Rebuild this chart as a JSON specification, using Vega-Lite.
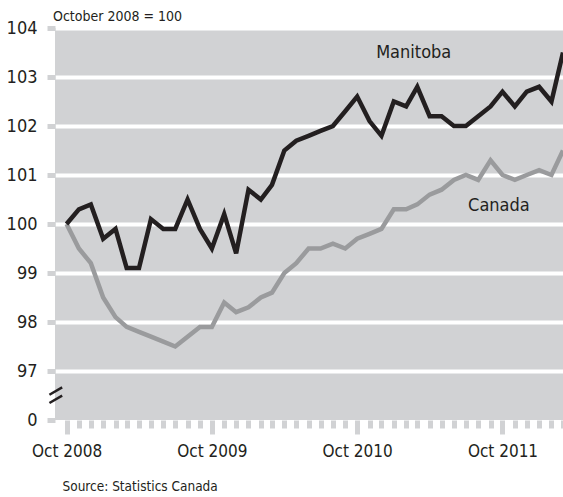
{
  "$schema": "https://vega.github.io/schema/vega-lite/v6.json",
  "width": 508,
  "height": 392,
  "autosize": {"type": "none"},
  "padding": {"left": 55, "top": 28, "right": 0, "bottom": 77},
  "background": "white",
  "config": {
    "view": {"fill": "#d1d2d4", "stroke": null},
    "font": "DejaVu Sans Condensed, Roboto"
  },
  "title": {
    "text": "October 2008 = 100",
    "anchor": "start",
    "frame": "group",
    "fontSize": 14,
    "fontWeight": "normal",
    "color": "#231f20",
    "offset": -5,
    "dx": -2
  },
  "layer": [
    {
      "data": {
        "values": [
          {"date": "2008-10-01", "Canada": 100.0, "Manitoba": 100.0},
          {"date": "2008-11-01", "Canada": 99.5, "Manitoba": 100.3},
          {"date": "2008-12-01", "Canada": 99.2, "Manitoba": 100.4},
          {"date": "2009-01-01", "Canada": 98.5, "Manitoba": 99.7},
          {"date": "2009-02-01", "Canada": 98.1, "Manitoba": 99.9},
          {"date": "2009-03-01", "Canada": 97.9, "Manitoba": 99.1},
          {"date": "2009-04-01", "Canada": 97.8, "Manitoba": 99.1},
          {"date": "2009-05-01", "Canada": 97.7, "Manitoba": 100.1},
          {"date": "2009-06-01", "Canada": 97.6, "Manitoba": 99.9},
          {"date": "2009-07-01", "Canada": 97.5, "Manitoba": 99.9},
          {"date": "2009-08-01", "Canada": 97.7, "Manitoba": 100.5},
          {"date": "2009-09-01", "Canada": 97.9, "Manitoba": 99.9},
          {"date": "2009-10-01", "Canada": 97.9, "Manitoba": 99.5},
          {"date": "2009-11-01", "Canada": 98.4, "Manitoba": 100.2},
          {"date": "2009-12-01", "Canada": 98.2, "Manitoba": 99.4},
          {"date": "2010-01-01", "Canada": 98.3, "Manitoba": 100.7},
          {"date": "2010-02-01", "Canada": 98.5, "Manitoba": 100.5},
          {"date": "2010-03-01", "Canada": 98.6, "Manitoba": 100.8},
          {"date": "2010-04-01", "Canada": 99.0, "Manitoba": 101.5},
          {"date": "2010-05-01", "Canada": 99.2, "Manitoba": 101.7},
          {"date": "2010-06-01", "Canada": 99.5, "Manitoba": 101.8},
          {"date": "2010-07-01", "Canada": 99.5, "Manitoba": 101.9},
          {"date": "2010-08-01", "Canada": 99.6, "Manitoba": 102.0},
          {"date": "2010-09-01", "Canada": 99.5, "Manitoba": 102.3},
          {"date": "2010-10-01", "Canada": 99.7, "Manitoba": 102.6},
          {"date": "2010-11-01", "Canada": 99.8, "Manitoba": 102.1},
          {"date": "2010-12-01", "Canada": 99.9, "Manitoba": 101.8},
          {"date": "2011-01-01", "Canada": 100.3, "Manitoba": 102.5},
          {"date": "2011-02-01", "Canada": 100.3, "Manitoba": 102.4},
          {"date": "2011-03-01", "Canada": 100.4, "Manitoba": 102.8},
          {"date": "2011-04-01", "Canada": 100.6, "Manitoba": 102.2},
          {"date": "2011-05-01", "Canada": 100.7, "Manitoba": 102.2},
          {"date": "2011-06-01", "Canada": 100.9, "Manitoba": 102.0},
          {"date": "2011-07-01", "Canada": 101.0, "Manitoba": 102.0},
          {"date": "2011-08-01", "Canada": 100.9, "Manitoba": 102.2},
          {"date": "2011-09-01", "Canada": 101.3, "Manitoba": 102.4},
          {"date": "2011-10-01", "Canada": 101.0, "Manitoba": 102.7},
          {"date": "2011-11-01", "Canada": 100.9, "Manitoba": 102.4},
          {"date": "2011-12-01", "Canada": 101.0, "Manitoba": 102.7},
          {"date": "2012-01-01", "Canada": 101.1, "Manitoba": 102.8},
          {"date": "2012-02-01", "Canada": 101.0, "Manitoba": 102.5},
          {"date": "2012-03-01", "Canada": 101.5, "Manitoba": 103.5}
        ]
      },
      "transform": [{"fold": ["Canada", "Manitoba"], "as": ["series", "value"]}],
      "mark": {"type": "line", "strokeWidth": 4.5, "strokeJoin": "miter"},
      "encoding": {
        "x": {
          "field": "date",
          "type": "temporal",
          "scale": {
            "type": "utc",
            "domain": [
              {"year": 2008, "month": 9, "date": 2, "utc": true},
              {"year": 2012, "month": 3, "date": 1, "utc": true}
            ],
            "nice": false
          },
          "axis": {
            "title": "Source: Statistics Canada",
            "titleFontSize": 13.5,
            "titleFontWeight": "normal",
            "titleColor": "#231f20",
            "titleAnchor": "start",
            "titleAlign": "left",
            "titleBaseline": "alphabetic",
            "titleX": 7,
            "titleY": 70,
            "tickCount": {"interval": "month", "step": 1},
            "labelExpr": "utcmonth(datum.value) == 9 ? utcFormat(datum.value, '%b %Y') : ''",
            "labelFontSize": 17,
            "labelColor": "#231f20",
            "labelPadding": 9,
            "labelFlush": false,
            "labelOverlap": false,
            "tickColor": "#d1d2d4",
            "tickWidth": 5,
            "tickSize": {"condition": {"test": "utcmonth(datum.value) == 9", "value": 14}, "value": 8},
            "domain": false,
            "grid": false
          }
        },
        "y": {
          "field": "value",
          "type": "quantitative",
          "scale": {"domain": [96, 104], "nice": false, "zero": false},
          "axis": {
            "title": null,
            "values": [96, 97, 98, 99, 100, 101, 102, 103, 104],
            "labelExpr": "datum.value == 96 ? '0' : datum.label",
            "labelFontSize": 18,
            "labelColor": "#231f20",
            "labelPadding": 10,
            "tickColor": "#d1d2d4",
            "tickWidth": 5,
            "tickSize": 8,
            "domain": false,
            "grid": true,
            "gridColor": "white",
            "gridWidth": 4,
            "gridOpacity": {"condition": {"test": "datum.value == 96", "value": 0}, "value": 1}
          }
        },
        "color": {
          "field": "series",
          "type": "nominal",
          "scale": {"domain": ["Canada", "Manitoba"], "range": ["#9a9b9d", "#231f20"]},
          "legend": null
        }
      }
    },
    {
      "data": {"values": [{"label": "Manitoba"}]},
      "mark": {"type": "text", "fontSize": 18, "color": "#231f20", "align": "center", "baseline": "middle"},
      "encoding": {
        "text": {"field": "label"},
        "x": {"datum": {"year": 2011, "month": 2, "date": 20, "utc": true}, "type": "temporal"},
        "y": {"datum": 103.49, "type": "quantitative"}
      }
    },
    {
      "data": {"values": [{"label": "Canada"}]},
      "mark": {"type": "text", "fontSize": 18, "color": "#231f20", "align": "center", "baseline": "middle"},
      "encoding": {
        "text": {"field": "label"},
        "x": {"datum": {"year": 2011, "month": 9, "date": 22, "utc": true}, "type": "temporal"},
        "y": {"datum": 100.36, "type": "quantitative"}
      }
    },
    {
      "data": {"values": [{"label": "break"}]},
      "mark": {"type": "rule", "color": "#231f20", "strokeWidth": 2.5},
      "encoding": {
        "x": {"datum": {"year": 2008, "month": 8, "date": 19, "utc": true}, "type": "temporal"},
        "x2": {"datum": {"year": 2008, "month": 9, "date": 20, "utc": true}},
        "y": {"datum": 96.516, "type": "quantitative"},
        "y2": {"datum": 96.665}
      }
    },
    {
      "data": {"values": [{"label": "break"}]},
      "mark": {"type": "rule", "color": "#231f20", "strokeWidth": 2.5},
      "encoding": {
        "x": {"datum": {"year": 2008, "month": 8, "date": 19, "utc": true}, "type": "temporal"},
        "x2": {"datum": {"year": 2008, "month": 9, "date": 20, "utc": true}},
        "y": {"datum": 96.347, "type": "quantitative"},
        "y2": {"datum": 96.496}
      }
    }
  ]
}
